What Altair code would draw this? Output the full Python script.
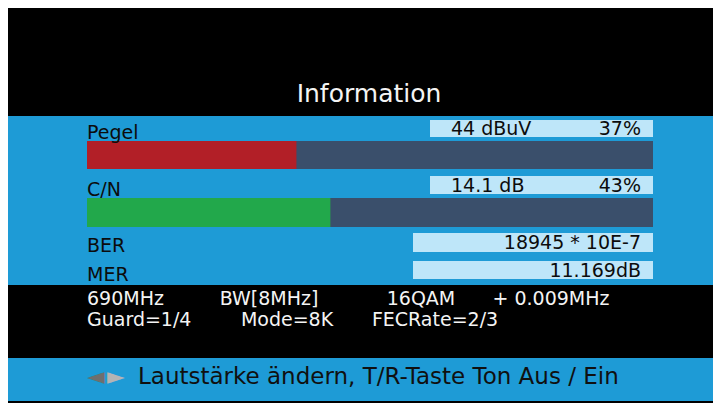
import altair as alt
import pandas as pd

title = "Information"
meter_labels = ["Pegel", "C/N"]
meter_readings = ["44 dBuV", "14.1 dB"]
meter_percent = [37, 43]
meter_colors = ["#b21f27", "#22a84b"]
stat_labels = ["BER", "MER"]
stat_values = ["18945 * 10E-7", "11.169dB"]
tuning_line1 = ["690MHz", "BW[8MHz]", "16QAM", "+ 0.009MHz"]
tuning_line2 = ["Guard=1/4", "Mode=8K", "FECRate=2/3"]
hint_keys = ["◄", "►"]
hint_text = "Lautstärke ändern, T/R-Taste Ton Aus / Ein"

# ---------------- layout (screen pixels of the OSD) ----------------
W, H = 705, 395          # fits the 721x411 window with its 8px page margin
X0, Y0 = 8, 8
BLUE = "#1e9bd6"
TRACK = "#3a4f6b"
BOX = "#bee6f9"
INK = "#0c0c0c"
WHITE = "#f4f4f4"
FONT = "DejaVu Sans"
FS_BODY, FS_TITLE, FS_HINT = 19, 25, 23

band_y = [(116, 285), (358, 401)]
track_x = (87, 653)
meter_track_y = [(141, 169), (198, 227)]
meter_box_x = (430, 653)
meter_box_y = [(120, 137), (176, 194)]
stat_box_x = (413, 653)
stat_box_y = [(233, 252), (261, 279)]
label_x = 87
meter_label_base = [139, 196]
meter_reading_base = [135, 192]
stat_label_base = [252, 281]
stat_value_base = [249, 277]
reading_left = 451
value_right = 641
line1_left = 87
line1_centers = [269, 421, 551]
line1_base = 305
line2_left = 87
line2_centers = [287, 435]
line2_base = 326
hint_x = [87, 107, 138]
hint_colors = ["#6f6f6f", "#b4b4b4"]
hint_base = 384
title_x, title_base = 369, 102

# ---------------- tables ----------------
rects = []
for (a, b) in band_y:
    rects.append(dict(x=0, x2=730, y=a, y2=b, c=BLUE))
for (a, b) in meter_track_y:
    rects.append(dict(x=track_x[0], x2=track_x[1], y=a, y2=b, c=TRACK))
for (a, b) in meter_box_y:
    rects.append(dict(x=meter_box_x[0], x2=meter_box_x[1], y=a, y2=b, c=BOX))
for (a, b) in stat_box_y:
    rects.append(dict(x=stat_box_x[0], x2=stat_box_x[1], y=a, y2=b, c=BOX))
rects = pd.DataFrame(rects)

meters = pd.DataFrame(dict(
    label=meter_labels,
    zero=[0] * len(meter_percent),
    pct=meter_percent,
    c=meter_colors,
    y=[t[0] for t in meter_track_y],
    y2=[t[1] for t in meter_track_y],
))

left_txt, right_txt, center_txt = [], [], []
center_txt.append(dict(t=title, x=title_x, y=title_base, c=WHITE, s=FS_TITLE))
for lab, base in zip(meter_labels, meter_label_base):
    left_txt.append(dict(t=lab, x=label_x, y=base, c=INK, s=FS_BODY))
for rd, pc, base in zip(meter_readings, meter_percent, meter_reading_base):
    left_txt.append(dict(t=rd, x=reading_left, y=base, c=INK, s=FS_BODY))
    right_txt.append(dict(t=f"{pc}%", x=value_right, y=base, c=INK, s=FS_BODY))
for lab, base in zip(stat_labels, stat_label_base):
    left_txt.append(dict(t=lab, x=label_x, y=base, c=INK, s=FS_BODY))
for v, base in zip(stat_values, stat_value_base):
    right_txt.append(dict(t=v, x=value_right, y=base, c=INK, s=FS_BODY))
left_txt.append(dict(t=tuning_line1[0], x=line1_left, y=line1_base, c=WHITE, s=FS_BODY))
for t, x in zip(tuning_line1[1:], line1_centers):
    center_txt.append(dict(t=t, x=x, y=line1_base, c=WHITE, s=FS_BODY))
left_txt.append(dict(t=tuning_line2[0], x=line2_left, y=line2_base, c=WHITE, s=FS_BODY))
for t, x in zip(tuning_line2[1:], line2_centers):
    center_txt.append(dict(t=t, x=x, y=line2_base, c=WHITE, s=FS_BODY))
for k, x, c in zip(hint_keys, hint_x[:2], hint_colors):
    left_txt.append(dict(t=k, x=x, y=hint_base, c=c, s=FS_HINT))
left_txt.append(dict(t=hint_text, x=hint_x[2], y=hint_base, c="#101010", s=FS_HINT))
left_txt = pd.DataFrame(left_txt)
right_txt = pd.DataFrame(right_txt)
center_txt = pd.DataFrame(center_txt)

# ---------------- scales ----------------
SX = alt.Scale(domain=[X0, X0 + W], nice=False, zero=False)
SY = alt.Scale(domain=[Y0 + H, Y0], nice=False, zero=False)
SP = alt.Scale(domain=[0, 100], range=[track_x[0] - X0, track_x[1] - X0], nice=False)

rect_layer = alt.Chart(rects).mark_rect().encode(
    x=alt.X("x:Q", scale=SX, axis=None), x2="x2:Q",
    y=alt.Y("y:Q", scale=SY, axis=None), y2="y2:Q",
    color=alt.Color("c:N", scale=None),
)

bar_layer = alt.Chart(meters).mark_rect().encode(
    x=alt.X("zero:Q", scale=SP, axis=None), x2="pct:Q",
    y=alt.Y("y:Q", scale=SY, axis=None), y2="y2:Q",
    color=alt.Color("c:N", scale=None),
)


def text_layer(df, align):
    return alt.Chart(df).mark_text(align=align, baseline="alphabetic", font=FONT).encode(
        x=alt.X("x:Q", scale=SX, axis=None),
        y=alt.Y("y:Q", scale=SY, axis=None),
        text="t:N",
        color=alt.Color("c:N", scale=None),
        size=alt.Size("s:Q", scale=None),
    )


chart = alt.layer(
    rect_layer,
    bar_layer,
    text_layer(left_txt, "left"),
    text_layer(right_txt, "right"),
    text_layer(center_txt, "center"),
).resolve_scale(x="independent").properties(
    width=W, height=H, padding=0, autosize=alt.AutoSizeParams(type="none"),
    background="#000000",
).configure_view(stroke=None, clip=True)

chart.save("out.html", embed_options={"renderer": "svg", "actions": False})
